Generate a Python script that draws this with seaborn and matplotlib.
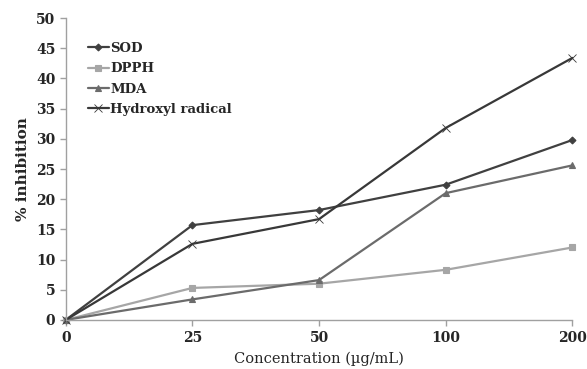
import matplotlib
matplotlib.use("Agg")
import matplotlib.pyplot as plt
import seaborn as sns
import pandas as pd

concentrations = ["0", "25", "50", "100", "200"]
sod = [0, 15.7, 18.2, 22.4, 29.8]
dpph = [0, 5.3, 6.0, 8.3, 12.0]
mda = [0, 3.4, 6.6, 21.0, 25.6]
hydroxyl = [0, 12.6, 16.7, 31.8, 43.4]
series_names = ["SOD", "DPPH", "MDA", "Hydroxyl radical"]

rows = []
for name, vals in zip(series_names, [sod, dpph, mda, hydroxyl]):
    for i, v in enumerate(vals):
        rows.append({"pos": i, "value": v, "series": name})
df = pd.DataFrame(rows)

sns.set_style("ticks")
plt.rcParams['font.family'] = ['DejaVu Serif']

fig = plt.figure(figsize=(5.87, 3.69), dpi=100)
ax = fig.add_axes([0.112, 0.133, 0.863, 0.818])

palette = {"SOD": "#404040", "DPPH": "#a6a6a6", "MDA": "#6b6b6b", "Hydroxyl radical": "#383838"}
markers = {"SOD": "D", "DPPH": "s", "MDA": "^", "Hydroxyl radical": "x"}
msizes = {"SOD": 3.5, "DPPH": 4.5, "MDA": 5, "Hydroxyl radical": 5.5}
mew = {"SOD": 0.8, "DPPH": 0.8, "MDA": 0.8, "Hydroxyl radical": 0.6}

for name in series_names:
    sub = df[df["series"] == name]
    sns.lineplot(data=sub, x="pos", y="value", color=palette[name], marker=markers[name],
                 ax=ax, linewidth=1.6, markersize=msizes[name], markeredgewidth=mew[name],
                 markeredgecolor=palette[name], label=name)

ax.set_xlim(0, 4)
ax.set_ylim(0, 50)
ax.set_xticks(range(len(concentrations)))
ax.set_xticklabels(concentrations, fontsize=10, fontweight="bold")
ax.set_yticks(range(0, 51, 5))
ax.set_yticklabels([str(v) for v in range(0, 51, 5)], fontsize=10, fontweight="bold")
ax.set_xlabel("Concentration (\u00b5g/mL)", fontsize=10.5, labelpad=5)
ax.set_ylabel("% inhibition", fontsize=11, fontweight="bold", labelpad=4)

for s in ["top", "right"]:
    ax.spines[s].set_visible(False)
for s in ["left", "bottom"]:
    ax.spines[s].set_color("#a0a0a0")
    ax.spines[s].set_linewidth(1.0)
ax.tick_params(axis="both", color="#a0a0a0", length=4, width=1.0)
ax.tick_params(axis="x", pad=4)

for line in ax.lines:
    line.set_clip_on(False)

leg = ax.legend(loc="upper left", bbox_to_anchor=(0.02, 0.96), frameon=False,
                handlelength=1.6, handletextpad=0.1, labelspacing=0.55,
                prop={"weight": "bold", "size": 9.5, "family": "DejaVu Serif"})
fig.savefig("out.png", dpi=100)
